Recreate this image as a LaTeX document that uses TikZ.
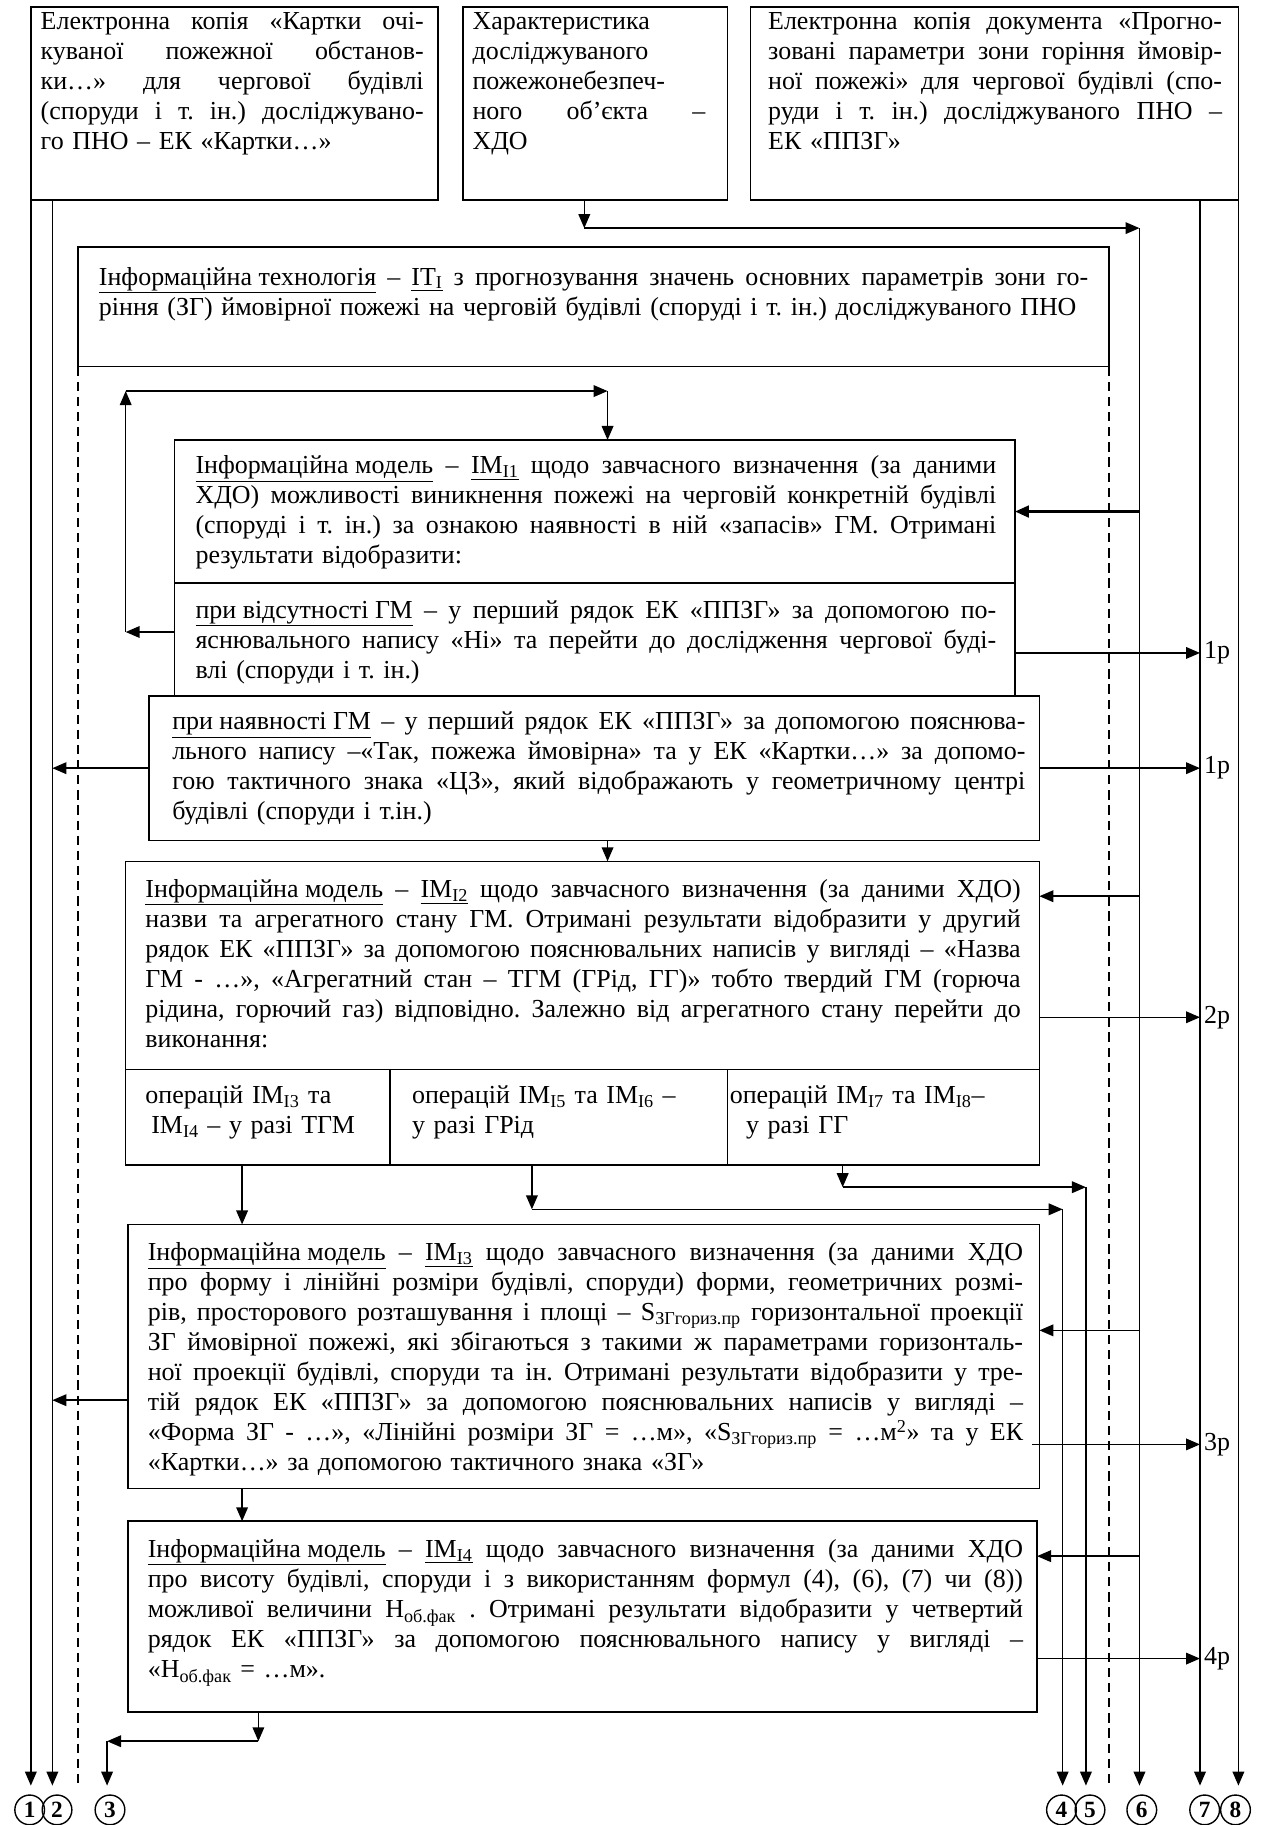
\documentclass[tikz,border=0pt]{standalone}
\usepackage{fontspec}
\setmainfont{Liberation Serif}
\usetikzlibrary{arrows.meta}
\newlength\tw
\newcommand\jl[1]{\makebox[\tw][s]{\spaceskip=0pt\xspaceskip=0pt\relax #1}}
\newcommand\sbs[1]{\textsubscript{#1}}
\frenchspacing
\begin{document}
\begin{tikzpicture}[x=1pt,y=-1pt,
  box/.style={draw, line width=1.3pt, anchor=north west, inner sep=0pt, outer sep=0pt},
  txt/.style={anchor=north west, inner sep=0pt, outer sep=0pt, align=left,
    text width=#1, execute at begin node={\setlength{\tw}{#1}\frenchspacing},
    font=\fontsize{22.3}{25.8}\selectfont},
  arr/.style={line width=1.3pt, -{Triangle[length=12pt,width=10pt]}},
  dsh/.style={line width=1.3pt, dash pattern=on 8pt off 5pt},
  tocirc/.style={shorten >=7.5pt},
  circ/.style={draw, circle, line width=1.2pt, minimum size=25.5pt, inner sep=0pt, font=\bfseries\fontsize{20}{20}\selectfont},
  lbl/.style={anchor=west, xshift=3pt, inner sep=0pt, font=\fontsize{22.3}{25.8}\selectfont}]
\useasboundingbox[fill=white] (0,0) rectangle (1087,1568);

% boxes
\node[box, minimum width=350pt, minimum height=166pt] (A) at (26.5,6) {};
\node[box, minimum width=227pt, minimum height=166pt] (B) at (398,6) {};
\node[box, minimum width=419pt, minimum height=166pt] (C) at (645,6) {};
\node[box, minimum width=886pt, minimum height=103pt] (IT) at (67,212) {};
\node[box, minimum width=722pt, minimum height=123pt] (I1) at (150,378) {};
\node[box, minimum width=722pt, minimum height=97pt] (I1b) at (150,501) {};
\node[box, minimum width=765pt, minimum height=124pt] (N) at (128,598) {};
\node[box, minimum width=785pt, minimum height=179pt] (I2) at (108,740) {};
\node[box, minimum width=227pt, minimum height=82pt] (K1) at (108,919) {};
\node[box, minimum width=290pt, minimum height=82pt] (K2) at (335,919) {};
\node[box, minimum width=268pt, minimum height=82pt] (K3) at (625,919) {};
\node[box, minimum width=783pt, minimum height=227pt] (I3) at (110,1052) {};
\node[box, minimum width=781pt, minimum height=164pt] (I4) at (110,1307) {};

% texts
\node[txt=329pt] (At) at (35,7) {\strut\jl{Електронна копія «Картки очі-}\\\jl{куваної пожежної обстанов-}\\\jl{ки…» для чергової будівлі}\\\jl{(споруди і т. ін.) досліджувано-}\\го ПНО – ЕК «Картки…»};
\node[txt=200pt] (Bt) at (406,7) {\strut Характеристика\\досліджуваного\\пожежонебезпеч-\\\jl{ного об’єкта –}\\ХДО};
\node[txt=390pt] (Ct) at (660,7) {\strut\jl{Електронна копія документа «Прогно-}\\\jl{зовані параметри зони горіння ймовір-}\\\jl{ної пожежі» для чергової будівлі (спо-}\\\jl{руди і т. ін.) досліджуваного ПНО –}\\ЕК «ППЗГ»};
\node[txt=850pt] (ITt) at (85,227) {\strut\jl{\underline{Інформаційна технологія} – \underline{IT\sbs{I}} з прогнозування значень основних параметрів зони го-}\\ріння (ЗГ) ймовірної пожежі на черговій будівлі (споруді і т. ін.) досліджуваного ПНО};
\node[txt=688pt] (I1t) at (168,389) {\strut\jl{\underline{Інформаційна модель} – \underline{IM\sbs{I1}} щодо завчасного визначення (за даними}\\\jl{ХДО) можливості виникнення пожежі на черговій конкретній будівлі}\\\jl{(споруді і т. ін.) за ознакою наявності в ній «запасів» ГМ. Отримані}\\результати відобразити:};
\node[txt=688pt] (I1bt) at (168,513) {\strut\jl{\underline{при відсутності ГМ} – у перший рядок ЕК «ППЗГ» за допомогою по-}\\\jl{яснювального напису «Ні» та перейти до дослідження чергової буді-}\\влі (споруди і т. ін.)};
\node[txt=733pt] (Nt) at (148,609) {\strut\jl{\underline{при наявності ГМ} – у перший рядок ЕК «ППЗГ» за допомогою пояснюва-}\\\jl{льного напису –«Так, пожежа ймовірна» та у ЕК «Картки…» за допомо-}\\\jl{гою тактичного знака «ЦЗ», який відображають у геометричному центрі}\\будівлі (споруди і т.ін.)};
\node[txt=752pt] (I2t) at (125,753) {\strut\jl{\underline{Інформаційна модель} – \underline{IM\sbs{I2}} щодо завчасного визначення (за даними ХДО)}\\\jl{назви та агрегатного стану ГМ. Отримані результати відобразити у другий}\\\jl{рядок ЕК «ППЗГ» за допомогою пояснювальних написів у вигляді – «Назва}\\\jl{ГМ - …», «Агрегатний стан – ТГМ (ГРід, ГГ)» тобто твердий ГМ (горюча}\\\jl{рідина, горючий газ) відповідно. Залежно від агрегатного стану перейти до}\\виконання:};
\node[txt=205pt] (K1t) at (125,930) {\strut операцій IM\sbs{I3} та\\\hspace*{5pt}IM\sbs{I4} – у разі ТГМ};
\node[txt=265pt] (K2t) at (354,930) {\strut операцій IM\sbs{I5} та IM\sbs{I6} –\\у разі ГРід};
\node[txt=262pt] (K3t) at (627,930) {\strut операцій IM\sbs{I7} та IM\sbs{I8}–\\\hspace*{14pt}у разі ГГ};
\node[txt=752pt] (I3t) at (127,1065) {\strut\jl{\underline{Інформаційна модель} – \underline{IM\sbs{I3}} щодо завчасного визначення (за даними ХДО}\\\jl{про форму і лінійні розміри будівлі, споруди) форми, геометричних розмі-}\\\jl{рів, просторового розташування і площі – S\sbs{ЗГгориз.пр} горизонтальної проекції}\\\jl{ЗГ ймовірної пожежі, які збігаються з такими ж параметрами горизонталь-}\\\jl{ної проекції будівлі, споруди та ін. Отримані результати відобразити у тре-}\\\jl{тій рядок ЕК «ППЗГ» за допомогою пояснювальних написів у вигляді –}\\\jl{«Форма ЗГ - …», «Лінійні розміри ЗГ = …м», «S\sbs{ЗГгориз.пр} = …м\textsuperscript{2}» та у ЕК}\\«Картки…» за допомогою тактичного знака «ЗГ»};
\node[txt=752pt] (I4t) at (127,1320) {\strut\jl{\underline{Інформаційна модель} – \underline{IM\sbs{I4}} щодо завчасного визначення (за даними ХДО}\\\jl{про висоту будівлі, споруди і з використанням формул (4), (6), (7) чи (8))}\\\jl{можливої величини H\sbs{об.фак} . Отримані результати відобразити у четвертий}\\\jl{рядок ЕК «ППЗГ» за допомогою пояснювального напису у вигляді –}\\«H\sbs{об.фак} = …м».};

% circles
\node[circ] (c1) at (25.5,1555) {1};
\node[circ] (c2) at (49,1555) {2};
\node[circ] (c3) at (94.5,1555) {3};
\node[circ] (c4) at (912,1555) {4};
\node[circ] (c5) at (936.5,1555) {5};
\node[circ] (c6) at (981,1555) {6};
\node[circ] (c7) at (1035,1555) {7};
\node[circ] (c8) at (1061.5,1555) {8};

% coordinates
\coordinate (L2) at (45,172);
\coordinate (L7) at (1031,172);
\coordinate (Bd) at (502,196);
\coordinate (L6) at (979,196);
\coordinate (Lp1) at (108,543);
\coordinate (Lp2) at (108,336);
\coordinate (Lp3) at (522,336);
\coordinate (K2d) at (457,1039);
\coordinate (L4) at (913,1039);
\coordinate (K3d) at (724,1020);
\coordinate (L5) at (933,1020);
\coordinate (I4d) at (222,1496);
\coordinate (L3) at (92,1496);
\coordinate (p3s) at (887,1241);

% long verticals
\draw[arr, tocirc] (A.south west) -- (A.south west |- c1.north);
\draw[arr, tocirc] (L2) -- (L2 |- c2.north);
\draw[arr, tocirc] (L7) -- (L7 |- c7.north);
\draw[arr, tocirc] (C.south east) -- (C.south east |- c8.north);
\draw[arr] (B.south -| Bd) -- (Bd);
\draw[arr] (Bd) -- (L6);
\draw[arr, tocirc] (L6) -- (L6 |- c6.north);
\draw[dsh, shorten >=6pt] (IT.south west) -- (IT.south west |- c1.north);
\draw[dsh, shorten >=6pt] (IT.south east) -- (IT.south east |- c1.north);

% loop back
\draw[arr] (I1b.west |- Lp1) -- (Lp1);
\draw[arr] (Lp1) -- (Lp2);
\draw[arr] (Lp2) -- (Lp3);
\draw[arr] (Lp3) -- (Lp3 |- I1.north);

% IM I1
\draw[line width=2.4pt, -{Triangle[length=12pt,width=10pt]}] (L6 |- I1.east) -- (I1.east);
\draw[arr] (I1b.east |- 0,561) -- (L7 |- 0,561) node[lbl] (p1a) {1р};
\draw[arr] (N.west) -- (N.west -| L2);
\draw[arr] (N.east) -- (N.east -| L7) node[lbl] (p1b) {1р};
\draw[arr] (N.south -| Lp3) -- (I2.north -| Lp3);

% IM I2
\draw[arr] (L6 |- 0,770) -- (I2.east |- 0,770);
\draw[arr] (I2.east |- 0,874) -- (L7 |- 0,874) node[lbl] (p2) {2р};
\draw[arr] (K1.south -| 208,0) -- (I3.north -| 208,0);
\draw[arr] (K2.south -| K2d) -- (K2d);
\draw[arr] (K2d) -- (L4);
\draw[arr, tocirc] (L4) -- (L4 |- c4.north);
\draw[arr] (K3.south -| K3d) -- (K3d);
\draw[arr] (K3d) -- (L5);
\draw[arr, tocirc] (L5) -- (L5 |- c5.north);

% IM I3
\draw[arr] (L6 |- 0,1143) -- (I3.east |- 0,1143);
\draw[arr] (I3.west |- 0,1203) -- (L2 |- 0,1203);
\draw[arr] (p3s) -- (L7 |- p3s) node[lbl] (p3) {3р};
\draw[arr] (I3.south -| 208,0) -- (I4.north -| 208,0);

% IM I4
\draw[arr] (L6 |- 0,1337) -- (I4.east |- 0,1337);
\draw[arr] (I4.east |- 0,1425) -- (L7 |- 0,1425) node[lbl] (p4) {4р};
\draw[arr] (I4.south -| I4d) -- (I4d);
\draw[arr] (I4d) -- (L3);
\draw[arr, tocirc] (L3) -- (L3 |- c3.north);
\end{tikzpicture}
\end{document}
